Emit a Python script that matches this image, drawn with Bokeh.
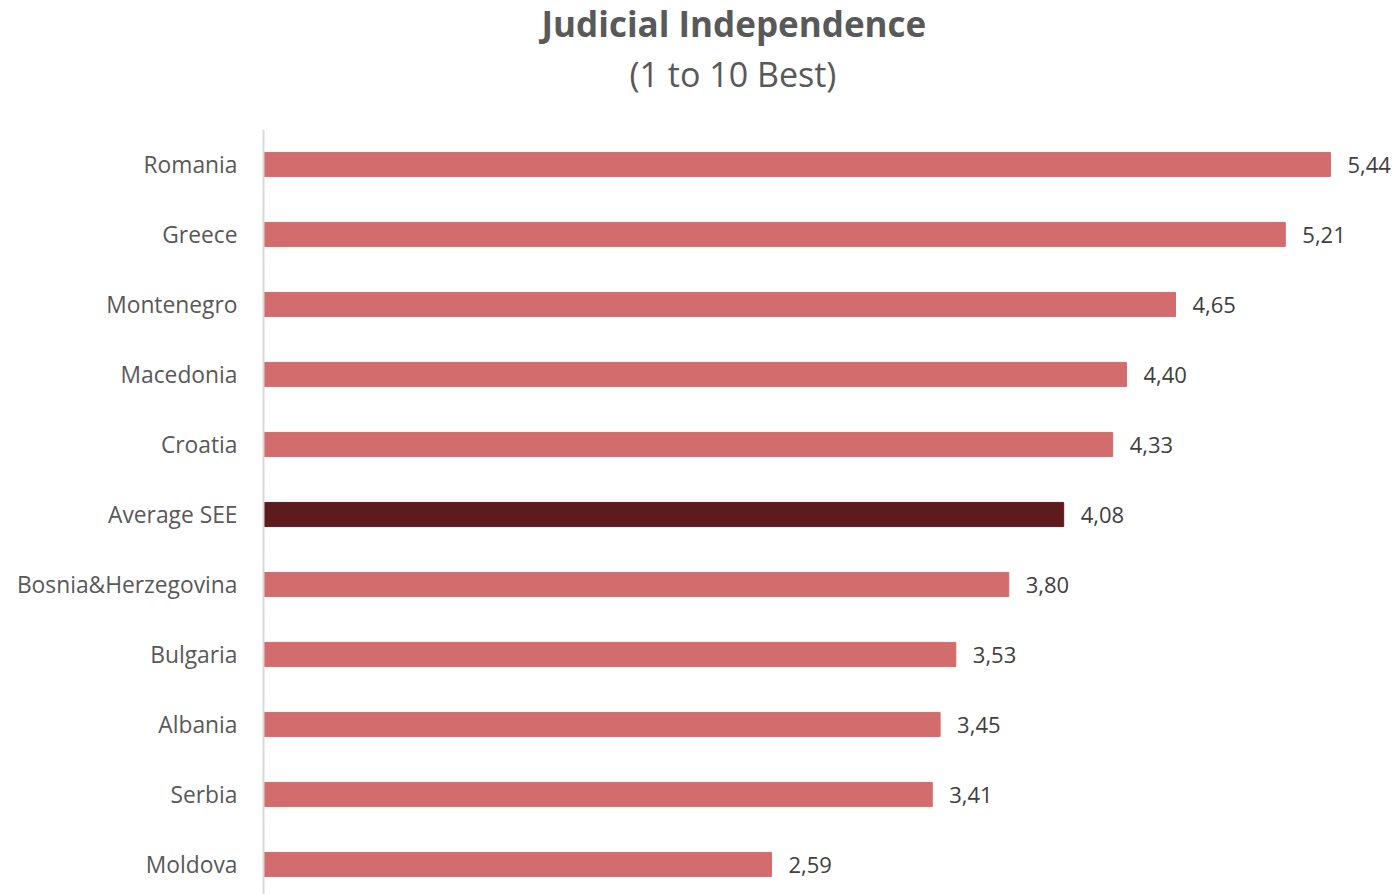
from bokeh.plotting import figure
from bokeh.models import Range1d, FixedTicker, ColumnDataSource, LabelSet, Title
from bokeh.core.properties import value
from bokeh.embed import file_html
from bokeh.resources import INLINE

countries = ["Romania", "Greece", "Montenegro", "Macedonia", "Croatia", "Average SEE",
             "Bosnia&Herzegovina", "Bulgaria", "Albania", "Serbia", "Moldova"]
scores = [5.44, 5.21, 4.65, 4.40, 4.33, 4.08, 3.80, 3.53, 3.45, 3.41, 2.59]
highlight = "Average SEE"

n = len(countries)
ypos = [n - 1 - i for i in range(n)]
colors = ["#5E1B1E" if c == highlight else "#D36C6C" for c in countries]
labels = [f"{v:.2f}".replace(".", ",") for v in scores]

src = ColumnDataSource(dict(y=ypos, v=scores, c=colors, lab=labels, name=countries))

FONT = "Open Sans"

p = figure(width=1396, height=894, output_backend="svg", toolbar_location=None,
           x_range=Range1d(0, 5.777), y_range=Range1d(-30 / 70, n - 0.5),
           min_border_left=263, min_border_right=0, min_border_top=129, min_border_bottom=0)
p.title.visible = False

p.hbar(y="y", right="v", left=0, height=0.345, color="c", source=src)

p.add_layout(LabelSet(x="v", y="y", text="lab", source=src, x_offset=17,
                      text_baseline="middle", text_align="left",
                      text_font=value(FONT), text_font_size=value("22px"), text_color="#404040"))

p.xaxis.visible = False
p.yaxis.ticker = FixedTicker(ticks=ypos)
p.yaxis.major_label_overrides = {y: c for y, c in zip(ypos, countries)}
p.yaxis.major_label_text_font = FONT
p.yaxis.major_label_text_font_size = "22.8px"
p.yaxis.major_label_text_color = "#595959"
p.yaxis.major_label_standoff = 20
p.yaxis.major_tick_line_color = None
p.yaxis.minor_tick_line_color = None
p.yaxis.axis_line_color = "#D9D9D9"
p.yaxis.axis_line_width = 2
p.xgrid.grid_line_color = None
p.ygrid.grid_line_color = None
p.outline_line_color = None

# spacer between subtitle and plot area
p.add_layout(Title(text=" ", standoff=11, text_font=FONT, text_font_size="10px"), "above")
p.add_layout(Title(text="(1 to 10 Best)", align="left", offset=366, standoff=12,
                   text_font=FONT, text_font_style="normal", text_font_size="34px",
                   text_color="#595959"), "above")
p.add_layout(Title(text="Judicial Independence", align="left", offset=278, standoff=-8,
                   text_font=FONT, text_font_style="bold", text_font_size="35px",
                   text_color="#595959"), "above")

open("out.html", "w").write(file_html(p, INLINE))
